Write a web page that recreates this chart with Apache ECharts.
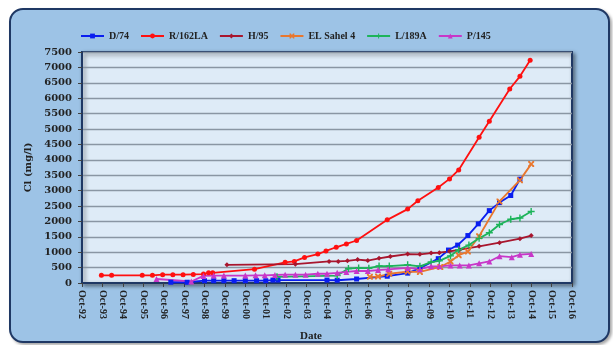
<!DOCTYPE html>
<html>
<head>
<meta charset="utf-8">
<script src="https://cdn.jsdelivr.net/npm/echarts@6/dist/echarts.min.js"></script>
<style>
  html, body { margin: 0; padding: 0; background: #ffffff; }
  #frame {
    position: absolute; left: 9px; top: 8px; width: 597px; height: 331px;
    background: #9DC3E6; border: 2.5px solid #1F3864; border-radius: 14px;
    box-shadow: 2px 2px 3px rgba(0, 0, 0, 0.35);
  }
  #chart { position: absolute; left: 0; top: 0; width: 613px; height: 345px; }
</style>
</head>
<body>
<div id="frame"></div>
<div id="chart"></div>
<script>
// x values are decimal years, the axis starts at Oct-92
const axisStart = 1992.75
const xTickLabels = [
  "Oct-92", "Oct-93", "Oct-94", "Oct-95", "Oct-96", "Oct-97", "Oct-98", "Oct-99",
  "Oct-00", "Oct-01", "Oct-02", "Oct-03", "Oct-04", "Oct-05", "Oct-06", "Oct-07",
  "Oct-08", "Oct-09", "Oct-10", "Oct-11", "Oct-12", "Oct-13", "Oct-14", "Oct-15", "Oct-16",
]

const d74Years = [1997.1, 1997.9, 1998.75, 1999.2, 1999.7, 2000.2, 2000.75, 2001.3, 2001.75, 2002.1, 2002.35,
  2004.75, 2005.25, 2006.2, 2007.7, 2008.7, 2009.3, 2010.2, 2010.7, 2011.15, 2011.65, 2012.16, 2012.7,
  2013.2, 2013.75, 2014.2]
const d74Cl = [25, 25, 75, 75, 75, 75, 75, 75, 75, 95, 95,
  95, 90, 130, 220, 320, 480, 790, 1070, 1230, 1540, 1920, 2350,
  2610, 2840, 3370]

const r162Years = [1993.7, 1994.2, 1995.7, 1996.2, 1996.7, 1997.2, 1997.7, 1998.2, 1998.7, 1998.95, 1999.15,
  2001.2, 2002.7, 2003.15, 2003.65, 2004.3, 2004.7, 2005.2, 2005.7, 2006.2, 2007.7, 2008.7, 2009.2,
  2010.2, 2010.75, 2011.2, 2012.2, 2012.7, 2013.7, 2014.2, 2014.7]
const r162Cl = [250, 250, 250, 250, 270, 270, 270, 280, 290, 330, 330,
  450, 670, 700, 830, 940, 1040, 1160, 1270, 1380, 2050, 2400, 2670,
  3100, 3380, 3670, 4730, 5250, 6300, 6710, 7230]

const h95Years = [1999.85, 2003.2, 2004.85, 2005.3, 2005.75, 2006.25, 2006.75, 2007.3, 2007.85, 2008.7, 2009.3,
  2009.85, 2010.25, 2010.75, 2011.25, 2012.2, 2013.2, 2014.2, 2014.75]
const h95Cl = [590, 610, 700, 700, 720, 760, 730, 800, 860, 940, 930,
  970, 985, 1030, 1080, 1190, 1310, 1440, 1540]

const sahelYears = [2006.85, 2007.25, 2007.8, 2008.7, 2009.3, 2010.3, 2010.8, 2011.2, 2011.65, 2012.2,
  2013.2, 2014.2, 2014.75]
const sahelCl = [200, 210, 300, 370, 360, 520, 700, 900, 1020, 1520,
  2650, 3340, 3860]

const l189Years = [2002.3, 2005.25, 2005.8, 2006.3, 2006.8, 2007.3, 2007.8, 2008.7, 2009.3, 2009.85, 2010.25,
  2010.8, 2011.2, 2011.7, 2012.2, 2012.7, 2013.2, 2013.75, 2014.2, 2014.75]
const l189Cl = [200, 240, 470, 490, 480, 550, 550, 590, 540, 680, 720,
  880, 1080, 1230, 1450, 1630, 1900, 2070, 2110, 2320]

const p145Years = [1996.4, 1998.1, 1998.7, 1999.2, 1999.7, 2000.75, 2001.25, 2001.7, 2002.2, 2002.7, 2003.2,
  2003.7, 2004.3, 2004.75, 2005.25, 2005.7, 2006.2, 2006.75, 2007.25, 2007.75, 2008.7, 2009.3, 2009.85,
  2010.25, 2010.8, 2011.25, 2011.7, 2012.2, 2012.7, 2013.2, 2013.8, 2014.2, 2014.75]
const p145Cl = [130, 50, 230, 240, 240, 240, 250, 250, 260, 270, 270,
  270, 300, 300, 330, 360, 390, 390, 420, 445, 490, 450, 540,
  540, 570, 570, 570, 640, 700, 870, 840, 920, 945]

const toPoints = (years, values) => years.map((y, i) => [y - axisStart, values[i]])

const crossSymbol = "path://M0,0 L2.5,0 L5,3 L7.5,0 L10,0 L10,2.5 L7,5 L10,7.5 L10,10 L7.5,10 L5,7 L2.5,10 L0,10 L0,7.5 L3,5 L0,2.5 Z"
const plusSymbol = "path://M4,0 L6,0 L6,4 L10,4 L10,6 L6,6 L6,10 L4,10 L4,6 L0,6 L0,4 L4,4 Z"

const makeSeries = (name, data, color, symbol, symbolSize) => ({
  name: name,
  type: "line",
  data: data,
  symbol: symbol,
  symbolSize: symbolSize,
  showAllSymbol: true,
  lineStyle: { width: 1.8, color: color },
  itemStyle: { color: color },
  animation: false,
})

const chart = echarts.init(document.getElementById("chart"))

const option = {
  backgroundColor: "transparent",
  textStyle: { fontFamily: "Liberation Serif", fontWeight: "bold", color: "#222" },
  legend: {
    top: 26,
    left: 75,
    itemWidth: 23,
    itemHeight: 6,
    itemGap: 11,
    textStyle: { fontFamily: "Liberation Serif", fontWeight: "bold", fontSize: 10, color: "#222" },
  },
  grid: {
    left: 82,
    right: 41,
    top: 52,
    bottom: 62,
    outerBoundsMode: "none",
    show: true,
    backgroundColor: "#DEEBF7",
    borderColor: "#1F3864",
    borderWidth: 2,
    shadowColor: "rgba(0, 0, 0, 0.45)",
    shadowBlur: 4,
    shadowOffsetX: 2,
    shadowOffsetY: 2,
  },
  xAxis: {
    type: "value",
    min: 0,
    max: 24,
    interval: 1,
    name: "Date",
    nameLocation: "middle",
    nameGap: 48,
    nameTextStyle: { fontFamily: "Liberation Serif", fontWeight: "bold", fontSize: 11, color: "#222", padding: [0, 32, 0, 0] },
    axisLine: { lineStyle: { color: "#1F3864", width: 2 } },
    axisTick: { show: true, length: 4, lineStyle: { color: "#404040" } },
    splitLine: { show: false },
    axisLabel: {
      rotate: -90,
      margin: 7,
      fontFamily: "Liberation Serif",
      fontWeight: "bold",
      fontSize: 10,
      color: "#222",
      formatter: (v) => xTickLabels[Math.round(v)],
    },
  },
  yAxis: {
    type: "value",
    min: 0,
    max: 7500,
    interval: 500,
    name: "Cl (mg/l)",
    nameLocation: "middle",
    nameGap: 46,
    nameTextStyle: { fontFamily: "DejaVu Serif", fontWeight: "bold", fontSize: 10, color: "#222" },
    axisLine: { show: true, lineStyle: { color: "#1F3864", width: 2 } },
    axisTick: { show: true, length: 4, lineStyle: { color: "#404040" } },
    splitLine: { lineStyle: { color: "#8A96A3", width: 1.3 } },
    axisLabel: {
      margin: 10,
      fontFamily: "DejaVu Serif",
      fontWeight: "bold",
      fontSize: 10,
      color: "#222",
      formatter: (v) => String(v),
    },
  },
  series: [
    makeSeries("D/74", toPoints(d74Years, d74Cl), "#0A1EF0", "rect", 5),
    makeSeries("R/162LA", toPoints(r162Years, r162Cl), "#FF1010", "circle", 5),
    makeSeries("H/95", toPoints(h95Years, h95Cl), "#A8162E", "diamond", 5),
    makeSeries("EL Sahel 4", toPoints(sahelYears, sahelCl), "#E9772E", crossSymbol, 6),
    makeSeries("L/189A", toPoints(l189Years, l189Cl), "#1DB45A", plusSymbol, 7),
    makeSeries("P/145", toPoints(p145Years, p145Cl), "#C837C8", "triangle", 6),
  ],
}

chart.setOption(option)
</script>
</body>
</html>
